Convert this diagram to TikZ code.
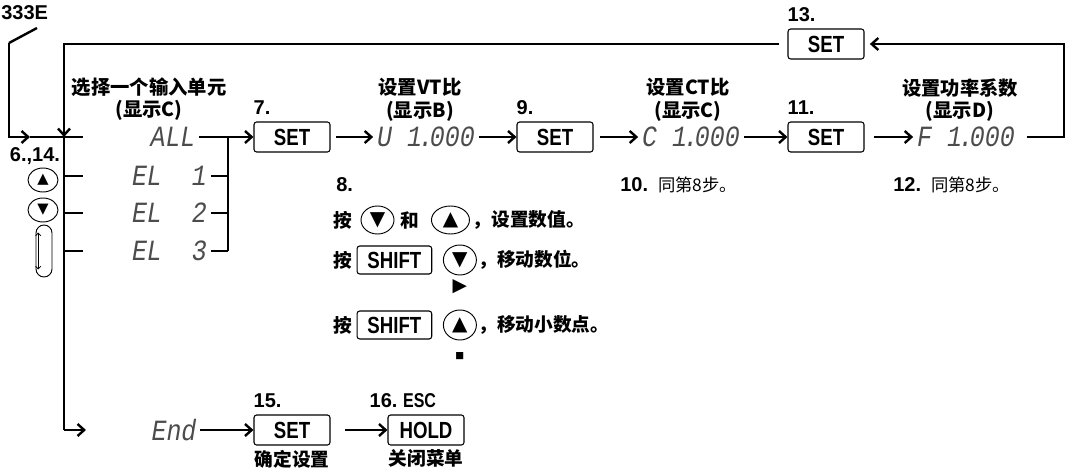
\documentclass[tikz,border=0pt]{standalone}
\usepackage{fontspec}
\setmainfont{Liberation Sans}
\newfontfamily\cjk{Noto Sans CJK SC}
\newfontfamily\keyfont{Liberation Sans}[FakeStretch=0.8]
\newfontfamily\segfont{Liberation Mono}[FakeStretch=0.85]
\newfontfamily\symfont{DejaVu Sans}
\usetikzlibrary{arrows.meta,positioning,shapes.geometric,calc}

\begin{document}
\begin{tikzpicture}[
    x=0.75pt, y=-0.75pt,
    key/.style={draw, rounded corners=2pt, line width=0.8pt, minimum width=57pt, minimum height=22.5pt, inner sep=0pt, font=\keyfont\bfseries\fontsize{17.5}{17.5}\selectfont},
    btn/.style={draw, ellipse, line width=0.7pt, inner sep=0pt, minimum width=24.75pt, minimum height=21pt, font=\symfont\fontsize{15}{15}\selectfont},
    sbtn/.style={btn, minimum width=22.5pt, minimum height=18pt, font=\symfont\fontsize{11}{11}\selectfont},
    seg/.style={inner sep=0pt, outer sep=3pt, text=black!70, font=\segfont\itshape\fontsize{22}{22}\selectfont},
    lab/.style={inner sep=0pt, font=\bfseries\fontsize{15}{17}\selectfont},
    head/.style={inner sep=0pt, align=center, font=\cjk\bfseries\fontsize{14.5}{17}\selectfont},
    txt/.style={inner sep=1pt, font=\cjk\bfseries\fontsize{14}{16}\selectfont},
    wire/.style={line width=1.8pt},
    arr/.style={wire, -{Straight Barb[length=5pt,width=9pt]}}
  ]
    \useasboundingbox (0,0) rectangle (1066,470);

    % main row
    \node[seg] (all) at (173,137) {ALL};
    \node[seg, anchor=west] (el1) at (128,176) {EL\ \ 1};
    \node[seg, anchor=west] (el2) at (128,213) {EL\ \ 2};
    \node[seg, anchor=west] (el3) at (128,251) {EL\ \ 3};
    \node[key] (set7) at (292,137) {SET};
    \node[seg] (vt) at (426,137) {U 1\kern-.12em.\kern-.12em000};
    \node[key] (set9) at (555,137) {SET};
    \node[seg] (ct) at (691,137) {C 1\kern-.12em.\kern-.12em000};
    \node[key] (set11) at (826,137) {SET};
    \node[seg] (pf) at (966,137) {F 1\kern-.12em.\kern-.12em000};
    \node[key] (set13) at (826,44) {SET};

    \node[lab, above right=5pt and 0pt of set7.north west] (n7) {7.};
    \node[lab, above right=5pt and 0pt of set9.north west] (n9) {9.};
    \node[lab, above right=5pt and 0pt of set11.north west] (n11) {11.};
    \node[lab, above right=5pt and 0pt of set13.north west] (n13) {13.};

    \node[head] (selh) at (149,99) {选择一个输入单元\\(显示C)};
    \node[head] (vth) at (420,100) {设置VT比\\(显示B)};
    \node[head] (cth) at (688,100) {设置CT比\\(显示C)};
    \node[head] (pfh) at (960,100) {设置功率系数\\(显示D)};

    \node[lab, anchor=west] (model) at (1,13) {333E};

    % left keys
    \node[lab] (n6) at (35,156) {6.,14.};
    \node[sbtn] (upb) at (43,180) {▲};
    \node[sbtn] (dnb) at (43,210) {▼};
    \node[draw, rounded corners=6pt, line width=0.7pt, minimum width=12pt, minimum height=39pt] (updn) at (44,251) {};
    \draw[{Straight Barb[length=2pt,width=4pt]}-{Straight Barb[length=2pt,width=4pt]}, line width=0.6pt]
      ([xshift=2pt,yshift=-6pt]updn.north west) -- ([xshift=2pt,yshift=6pt]updn.south west);

    % step 8
    \node[lab, anchor=west] (n8) at (336,185) {8.};
    \node[txt, anchor=west] (p1) at (332,220) {按};
    \node[btn, right=5pt of p1] (dn1) {▼};
    \node[txt, right=3pt of dn1] (and1) {和};
    \node[btn, minimum width=28.5pt, right=8pt of and1] (up1) {▲};
    \node[txt, right=1pt of up1] (t1) {，设置数值。};
    \node[txt, anchor=west] (p2) at (332,260) {按};
    \node[key, minimum width=56pt, minimum height=21pt, right=2pt of p2] (sh2) {SHIFT};
    \node[btn, minimum height=22.5pt, right=8pt of sh2] (dn2) {▼};
    \node[txt, right=0pt of dn2] (t2) {，移动数位。};
    \node[inner sep=0pt, font=\symfont\fontsize{14}{14}\selectfont, below=3pt of dn2] (rt) {▶};
    \node[txt, anchor=west] (p3) at (332,325) {按};
    \node[key, minimum width=56pt, minimum height=21pt, right=2pt of p3] (sh3) {SHIFT};
    \node[btn, minimum height=22.5pt, right=8pt of sh3] (up3) {▲};
    \node[txt, right=0pt of up3] (t3) {，移动小数点。};
    \node[inner sep=0pt, font=\symfont\fontsize{7}{7}\selectfont, below=9pt of up3] (dot) {■};

    \node[lab, anchor=west] (n10) at (620,185) {10.\enspace{\cjk\mdseries\fontsize{13}{15}\selectfont 同第8步。}};
    \node[lab, anchor=west] (n12) at (893,185) {12.\enspace{\cjk\mdseries\fontsize{13}{15}\selectfont 同第8步。}};

    % bottom row
    \node[seg] (fin) at (174,430) {End};
    \node[key] (set15) at (292,430) {SET};
    \node[key] (hold) at (426,430) {HOLD};
    \node[lab, above right=5pt and 0pt of set15.north west] (n15) {15.};
    \node[lab, above right=5pt and -13.5pt of hold.north west] (n16) {16.\ {\keyfont ESC}};
    \node[txt, below=2pt of set15] (okh) {确定设置};
    \node[txt, below=2pt of hold] (exh) {关闭菜单};

    % connectors
    \coordinate (e1) at (37,28);
    \coordinate (e2) at (9,43);
    \coordinate (e3) at (9,137);
    \coordinate (entry) at (30,137);
    \coordinate (bustop) at (64,137);
    \coordinate (busbot) at (64,430);
    \coordinate (endin) at (86,430);
    \coordinate (brk) at (228,137);
    \coordinate (rtop) at (1064,44);

    \draw[wire] (e1) -- (e2);
    \draw[arr] (e2) -- (e3) -- (entry);
    \draw[wire] (entry) -- (bustop) -- (busbot);
    \foreach \n in {all,el1,el2,el3}
      \draw[wire] (bustop |- \n) -- ++(19,0);
    \draw[arr] (busbot) -- (endin);
    \draw[arr] (all.east) -- (set7.west);
    \draw[wire] (brk) -- (brk |- el3);
    \foreach \n in {el1,el2,el3}
      \draw[wire] (\n.east) -- (brk |- \n);
    \draw[arr, shorten <=4pt] (set7) -- (vt);
    \draw[arr] (vt) -- (set9);
    \draw[arr, shorten <=5pt] (set9) -- (ct);
    \draw[arr] (ct) -- (set11);
    \draw[arr, shorten <=7pt] (set11) -- (pf);
    \draw[arr, shorten <=6pt, shorten >=4pt] (pf.east) -| (rtop) -- (set13.east);
    \draw[arr, shorten <=6pt] (set13.west) -| (bustop);
    \draw[arr] (fin) -- (set15);
    \draw[arr, shorten <=11pt] (set15) -- (hold);
  \end{tikzpicture}
\end{document}
